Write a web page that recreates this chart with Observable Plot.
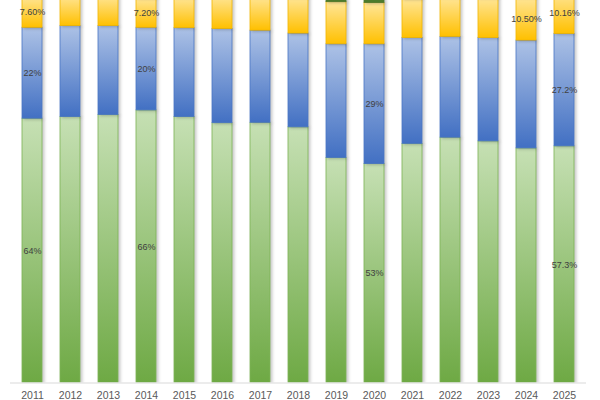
<!DOCTYPE html>
<html>
<head>
<meta charset="utf-8">
<script src="https://cdn.jsdelivr.net/npm/d3@7"></script>
<script src="https://cdn.jsdelivr.net/npm/@observablehq/plot@0.6"></script>
<style>
  html, body { margin: 0; padding: 0; background: #fff; }
  #chart svg { display: block; }
</style>
</head>
<body>
<div id="chart"></div>
<script>
// Share of each segment per year, in percent (stacked to 100%)
const years = ["2011", "2012", "2013", "2014", "2015", "2016", "2017", "2018",
               "2019", "2020", "2021", "2022", "2023", "2024", "2025"];
const green  = [64, 64.4, 64.9, 66, 64.4, 62.9, 63, 61.9, 54.5, 53, 57.9, 59.4, 58.5, 56.8, 57.3];
const blue   = [22, 22.0, 21.5, 20, 21.5, 22.8, 22.3, 22.7, 27.5, 29, 25.6, 24.4, 25.0, 26.1, 27.2];
const yellow = [7.6, 7.5, 7.4, 7.2, 7.5, 8.0, 8.3, 8.8, 10.2, 10.0, 9.5, 9.6, 9.8, 10.5, 10.16];
const other  = [6.4, 6.1, 6.2, 6.8, 6.6, 6.3, 6.4, 6.6, 7.8, 8.0, 7.0, 6.6, 6.7, 6.6, 5.34];

// Data labels shown on selected segments
const greenLabels  = ["64%", "", "", "66%", "", "", "", "", "", "53%", "", "", "", "", "57.3%"];
const blueLabels   = ["22%", "", "", "20%", "", "", "", "", "", "29%", "", "", "", "", "27.2%"];
const yellowLabels = ["7.60%", "", "", "7.20%", "", "", "", "", "", "", "", "", "", "10.50%", "10.16%"];

// Visible part of the percentage axis
const yTop = 92.6;

// Stack the series bottom-up into y1/y2 intervals
const seriesList = [
  {key: "green", values: green, labels: greenLabels},
  {key: "blue", values: blue, labels: blueLabels},
  {key: "yellow", values: yellow, labels: yellowLabels},
  {key: "other", values: other, labels: null}
];
const rows = [];
years.forEach((year, i) => {
  let base = 0;
  for (const s of seriesList) {
    const v = s.values[i];
    rows.push({year, series: s.key, y1: base, y2: base + v, label: s.labels ? s.labels[i] : ""});
    base += v;
  }
});
const bySeries = (k) => rows.filter(d => d.series === k);

const segment = (k, fill, stroke) =>
  Plot.barY(bySeries(k), {x: "year", y1: "y1", y2: "y2", fill, stroke, strokeWidth: 0.8, clip: true});

const chart = Plot.plot({
  width: 600,
  height: 400,
  marginTop: 0,
  marginBottom: 17.5,
  marginLeft: 10,
  marginRight: 14,
  style: {background: "white", fontFamily: "'Liberation Sans', Arial, sans-serif"},
  x: {type: "band", domain: years, paddingInner: 0.48, paddingOuter: 0.24, label: null},
  y: {domain: [0, yTop], axis: null},
  marks: [
    segment("green", "url(#gradGreen)", "#7db356"),
    segment("blue", "url(#gradBlue)", "#4a77c6"),
    segment("yellow", "url(#gradYellow)", "#f2b700"),
    segment("other", "url(#gradOther)", "#4e7a30"),
    Plot.ruleY([0], {stroke: "#d9d9d9"}),
    Plot.axisX({tickSize: 0, tickPadding: 9, fontSize: 10.5, fill: "#595959", label: null}),
    Plot.text(rows.filter(d => d.label), {
      x: "year", y: d => (d.y1 + d.y2) / 2, text: "label",
      fontSize: 9, fill: "#404040"
    })
  ]
});

// Vertical gradient fills for the bar segments
const defs = d3.select(chart).insert("defs", ":first-child");
const gradients = [
  ["gradGreen", "#c6e0b4", "#6ea944"],
  ["gradBlue", "#adc2e6", "#4270c3"],
  ["gradYellow", "#ffe699", "#ffc000"],
  ["gradOther", "#5e8f3c", "#4b7a2c"]
];
for (const [id, top, bottom] of gradients) {
  const g = defs.append("linearGradient").attr("id", id)
    .attr("x1", 0).attr("y1", 0).attr("x2", 0).attr("y2", 1);
  g.append("stop").attr("offset", "0%").attr("stop-color", top);
  g.append("stop").attr("offset", "100%").attr("stop-color", bottom);
}

// Soft shadow to the right of each bar
d3.select(chart).selectAll('g[aria-label="bar"]')
  .style("filter", "drop-shadow(2px 1px 1.5px rgba(0,0,0,0.22))");

document.getElementById("chart").appendChild(chart);
</script>
</body>
</html>
